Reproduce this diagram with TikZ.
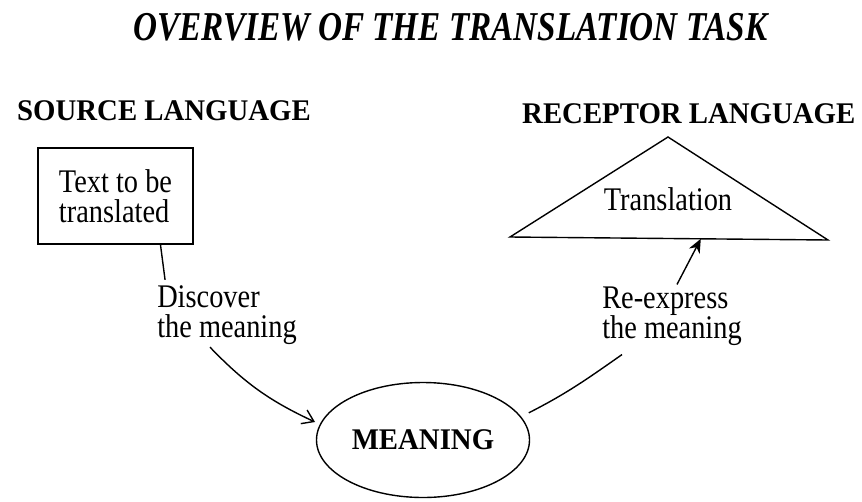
\documentclass[tikz,border=0pt]{standalone}
\usepackage{fontspec}
\setmainfont{Liberation Serif}
\newfontfamily\regfont[FakeStretch=0.86]{Liberation Serif}
\newfontfamily\boldfont[FakeStretch=0.96]{Liberation Serif}
\newfontfamily\ttlfont[FakeStretch=0.81]{Liberation Serif}
\usetikzlibrary{shapes.geometric,arrows.meta,calc}
\begin{document}
\begin{tikzpicture}[x=1pt,y=1pt,
  reg/.style={font=\regfont\fontsize{33}{30}\selectfont},
  hd/.style={font=\boldfont\bfseries\fontsize{30}{30}\selectfont, inner sep=0pt, anchor=base west},
  lbl/.style={reg, align=left, inner sep=0pt},
  conn/.style={line width=1.4pt},
  barb/.style={-{Straight Barb[length=11pt,width=15pt]}},
  stl/.style={-{Stealth[length=14pt,width=12pt]}}
]
\useasboundingbox (0,0) rectangle (862,-501);
\fill[white] (0,0) rectangle (862,-501);

\node[font=\ttlfont\bfseries\itshape\fontsize{41}{41}\selectfont, inner sep=0pt, anchor=base west] (title) at (133,-40) {OVERVIEW OF THE TRANSLATION TASK};

\node[hd] (src) at (17,-120) {SOURCE LANGUAGE};
\node[hd] (rec) at (522,-123) {RECEPTOR LANGUAGE};

\node[draw, line width=1.7pt, minimum width=155pt, minimum height=96pt, inner sep=0pt, reg, align=left] (box) at (115.5,-196) {Text to be\\translated};

\coordinate (tA) at (668,-137);
\coordinate (tL) at (510,-237);
\coordinate (tR) at (828,-240);
\draw[line width=1.4pt, line join=miter] (tA) -- (tL) -- (tR) -- cycle;
\coordinate (tip) at ($(tL)!0.6!(tR)$);
\node[reg] (trans) at (668,-199) {Translation};

\node[draw, ellipse, line width=1.4pt, minimum width=213pt, minimum height=115pt, inner sep=0pt, font=\boldfont\bfseries\fontsize{30}{30}\selectfont] (meaning) at (423,-440) {MEANING};

\node[lbl] (disc) at (227,-315.5) {Discover\\the meaning};
\node[lbl] (re) at (672,-316) {Re-express\\the meaning};

\draw[conn] ([xshift=45pt]box.south) -- ([xshift=8pt,yshift=6pt]disc.north west);
\draw[conn, barb] ([xshift=-17pt,yshift=-2pt]disc.south) to[out=-46,in=155] ([xshift=-6pt]meaning.170);
\draw[conn] ([xshift=11pt]meaning.16) to[out=27,in=-145] ([xshift=-50pt,yshift=-9pt]re.south);
\draw[conn, stl] ([xshift=5pt,yshift=2pt]re.north) -- (tip);
\end{tikzpicture}
\end{document}
